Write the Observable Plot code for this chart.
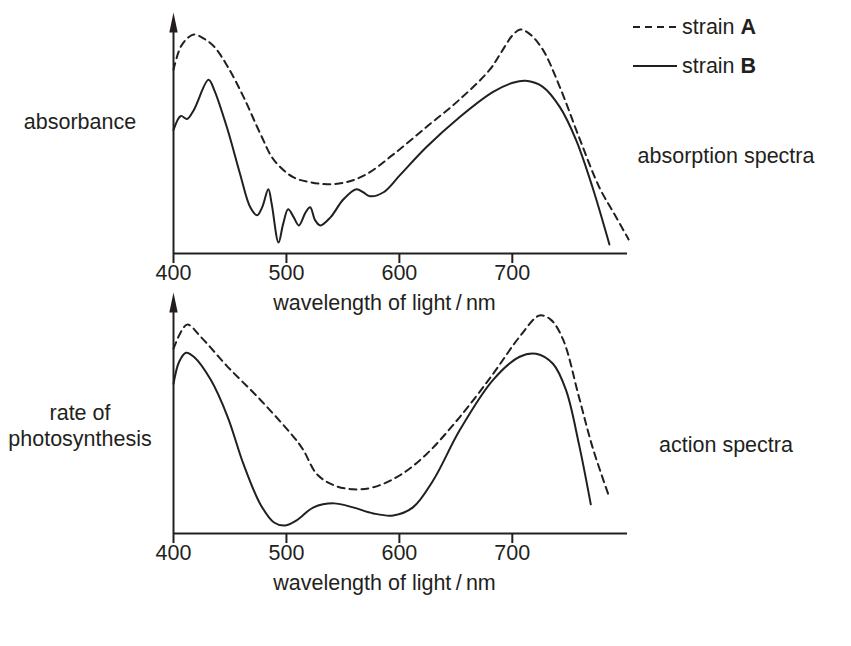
<!DOCTYPE html>
<html><head><meta charset="utf-8">
<script src="https://cdn.jsdelivr.net/npm/d3@7"></script>
<script src="https://cdn.jsdelivr.net/npm/@observablehq/plot@0.6"></script>
<style>
html,body{margin:0;padding:0;background:#fff;}
#page{position:relative;width:851px;height:646px;overflow:hidden;background:#fff;font-family:"Liberation Sans",Arial,Helvetica,sans-serif;color:#231f20;}
.lbl{position:absolute;font-size:21.5px;line-height:22px;white-space:nowrap;}
.c{transform:translateX(-50%);text-align:center;}
.chart{position:absolute;left:0;}
.chart svg{overflow:visible;}
.leg{position:absolute;left:633px;}
</style></head><body>
<div id="page">
  <div id="top" class="chart" style="top:0px"></div>
  <div id="bottom" class="chart" style="top:280px"></div>
  <svg class="leg" style="top:25px" width="44" height="4"><line x1="0" y1="2" x2="44" y2="2" stroke="#231f20" stroke-width="2" stroke-dasharray="7,5"/></svg>
  <svg class="leg" style="top:64px" width="44" height="4"><line x1="0" y1="2" x2="44" y2="2" stroke="#231f20" stroke-width="2"/></svg>
  <div class="lbl" style="left:682px;top:15.5px">strain <b>A</b></div>
  <div class="lbl" style="left:682px;top:54.5px">strain <b>B</b></div>
  <div class="lbl c" style="left:80px;top:110.5px">absorbance</div>
  <div class="lbl c" style="left:726px;top:144.5px">absorption spectra</div>
  <div class="lbl c" style="left:80px;top:399.5px;line-height:26px">rate of<br>photosynthesis</div>
  <div class="lbl c" style="left:726px;top:433.5px">action spectra</div>
</div>
<script>
const INK = "#231f20";
const tickValues = [400, 500, 600, 700];
const xDomain = [400, 802];
const yDomain = [0, 240];
const axisLabel = "wavelength of light\u2009/\u2009nm";

// absorption spectra (top)
const absNmA = [400, 406, 412, 418, 427, 436, 448, 462, 477, 489, 506, 521, 536, 553, 571, 595, 624, 653, 680, 690, 700, 707, 715, 727, 742, 759, 777, 790, 803];
const absValA = [183, 205, 214, 218, 214, 206, 186, 156, 119, 93, 76, 71, 69, 71, 79, 99, 126, 153, 183, 200, 217, 223, 219, 203, 166, 116, 66, 40, 14];
const absNmB = [400, 406.5, 412, 418, 431, 436, 448, 459, 468, 474, 478.5, 484, 487, 493, 497, 501.5, 506.5, 511, 517, 521, 525.5, 530, 539, 550.5, 562, 568, 574, 586, 600.5, 624, 653.5, 683, 700.5, 712, 727, 742, 756.5, 771, 786];
const absValB = [123, 137, 134, 143, 173, 163, 123, 79, 46, 38, 46, 64, 49, 11, 29, 44, 36, 28, 41, 46, 33, 28, 36, 54, 64, 61, 57, 61, 78, 106, 136, 161, 170, 172, 166, 146, 113, 66, 9];

// action spectra (bottom)
const actNmA = [400, 412, 424, 448, 477, 506.5, 515, 527, 542, 559, 577, 600.5, 624, 653.5, 683, 706.5, 724, 734, 745, 759, 771, 785];
const actValA = [184, 208, 196, 166, 133, 96, 83, 59, 48, 44, 46, 58, 79, 116, 159, 196, 217, 213, 193, 136, 86, 39];
const actNmB = [400, 405, 411, 418, 433, 448, 462, 477, 489, 499, 509, 524, 542, 559, 577, 594.5, 612, 630, 653.5, 683, 706.5, 721, 736, 747.5, 759, 769.5];
const actValB = [149, 171, 180, 176, 153, 116, 69, 29, 11, 8, 13, 26, 30, 26, 20, 18, 26, 53, 103, 153, 176, 179, 169, 143, 89, 29];

const arrowHead = {
  draw(context) {
    context.moveTo(0, 0);
    context.lineTo(4.2, 20);
    context.lineTo(-4.2, 20);
    context.closePath();
  }
};

function panel(nmA, valA, nmB, valB) {
  const A = nmA.map((x, i) => ({x, y: valA[i]}));
  const B = nmB.map((x, i) => ({x, y: valB[i]}));
  return Plot.plot({
    width: 851, height: 330,
    marginTop: 12, marginBottom: 77, marginLeft: 173, marginRight: 224,
    style: {background: "transparent", overflow: "visible", fontFamily: "'Liberation Sans', Arial, Helvetica, sans-serif", fontSize: "21.5px", color: INK},
    x: {domain: xDomain},
    y: {domain: yDomain, axis: null},
    marks: [
      Plot.line(A, {x: "x", y: "y", curve: "catmull-rom", stroke: INK, strokeWidth: 2, strokeDasharray: "7,5"}),
      Plot.line(B, {x: "x", y: "y", curve: "catmull-rom", stroke: INK, strokeWidth: 2}),
      Plot.ruleY([yDomain[0]], {x1: xDomain[0], x2: xDomain[1], stroke: INK, strokeWidth: 2}),
      Plot.ruleX([xDomain[0]], {y1: yDomain[0], y2: yDomain[1] - 10, stroke: INK, strokeWidth: 2}),
      Plot.dot([{x: xDomain[0], y: yDomain[1]}], {x: "x", y: "y", symbol: arrowHead, fill: INK, stroke: null}),
      Plot.axisX({ticks: tickValues, tickSize: 10, tickPadding: 1, strokeWidth: 2, label: null, fontSize: 21.5, fill: INK, stroke: INK}),
      Plot.text([axisLabel], {text: d => d, frameAnchor: "bottom", dx: -16, dy: 56, lineAnchor: "bottom", fontSize: 21.5, fill: INK})
    ]
  });
}

document.getElementById("top").append(panel(absNmA, absValA, absNmB, absValB));
document.getElementById("bottom").append(panel(actNmA, actValA, actNmB, actValB));
</script>
</body></html>
